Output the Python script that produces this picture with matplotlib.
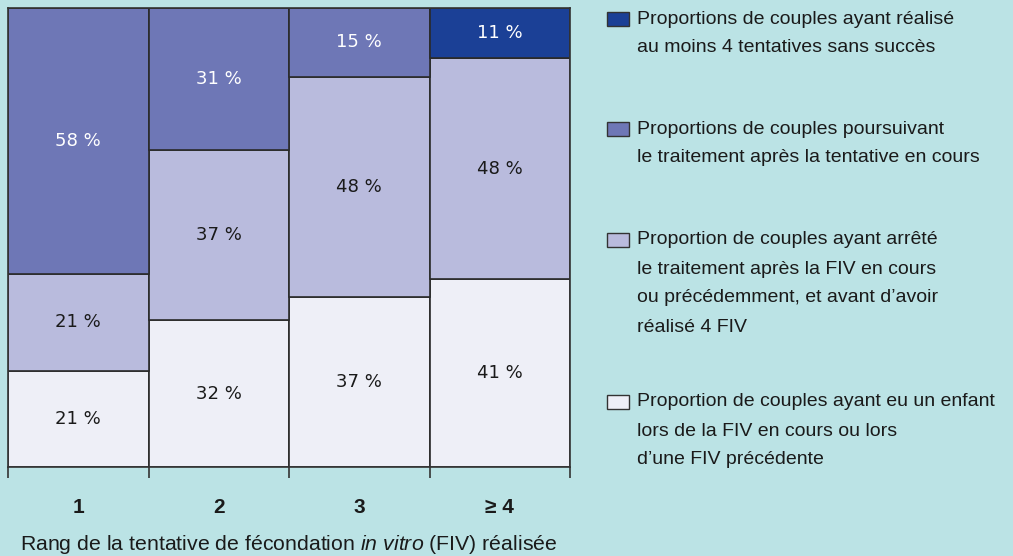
import numpy as np
import matplotlib
matplotlib.use('Agg')
import matplotlib.pyplot as plt
from matplotlib import font_manager
from matplotlib.patches import Rectangle

names = {f.name for f in font_manager.fontManager.ttflist}
narrow = 'Liberation Sans Narrow' if 'Liberation Sans Narrow' in names else 'Liberation Sans'
plt.rcParams['font.family'] = [narrow, 'DejaVu Sans']
plt.rcParams['mathtext.fontset'] = 'custom'
plt.rcParams['mathtext.it'] = narrow + ':italic'
plt.rcParams['mathtext.rm'] = narrow

# data
categories = ['1', '2', '3', '≥ 4']
enfant = [21, 32, 37, 41]
arrete = [21, 37, 48, 48]
poursuivant = [58, 31, 15, 0]
echec4 = [0, 0, 0, 11]

series = [enfant, arrete, poursuivant, echec4]
colors = ['#eeeff7', '#b9bbdd', '#6e77b6', '#1b4096']
text_colors = ['#1a1a1a', '#1a1a1a', 'white', 'white']
legend_labels = [
    "Proportions de couples ayant réalisé\nau moins 4 tentatives sans succès",
    "Proportions de couples poursuivant\nle traitement après la tentative en cours",
    "Proportion de couples ayant arrêté\nle traitement après la FIV en cours\nou précédemment, et avant d’avoir\nréalisé 4 FIV",
    "Proportion de couples ayant eu un enfant\nlors de la FIV en cours ou lors\nd’une FIV précédente",
]
legend_colors = [colors[3], colors[2], colors[1], colors[0]]

bg = '#bbe3e5'
W, H = 1013, 556
fig = plt.figure(figsize=(W / 100, H / 100), dpi=100, facecolor=bg)
ax = fig.add_axes([8 / W, (H - 467) / H, (570 - 8) / W, (467 - 8) / H])
ax.set_facecolor(bg)

x = np.arange(len(categories))
bottom = np.zeros(len(categories))
for vals, c, tc in zip(series, colors, text_colors):
    vals = np.array(vals, dtype=float)
    ax.bar(x, vals, width=1.0, bottom=bottom, color=c, edgecolor='#2a2a2a', linewidth=1.2)
    for xi, v, b in zip(x, vals, bottom):
        if v > 0:
            ax.text(xi, b + v / 2, f'{int(v)} %', ha='center', va='center',
                    fontsize=13, color=tc, family='DejaVu Sans')
    bottom += vals

ax.set_xlim(-0.5, len(categories) - 0.5)
ax.set_ylim(0, 100)
ax.set_yticks([])
ax.set_xticks(x)
ax.set_xticklabels(categories, fontsize=15, fontweight='bold', color='#1a1a1a')
ax.tick_params(axis='x', which='major', length=0, pad=22)
ax.set_xticks(np.arange(-0.5, len(categories)), minor=True)
ax.tick_params(axis='x', which='minor', length=8, width=1.2, color='#333333', direction='out')
for s in ax.spines.values():
    s.set_color('#333333')
    s.set_linewidth(1.2)
ax.set_xlabel(r'Rang de la tentative de fécondation $\mathit{in\ vitro}$ (FIV) réalisée',
              fontsize=15.3, color='#1a1a1a', labelpad=12)

# legend
line_h = 29
item_tops = [19, 129, 240, 402]
for lab, c, yc in zip(legend_labels, legend_colors, item_tops):
    fig.patches.append(Rectangle((607 / W, 1 - (yc + 7) / H), 22 / W, 14 / H,
                                 transform=fig.transFigure, facecolor=c,
                                 edgecolor='#333333', linewidth=1))
    for i, line in enumerate(lab.split('\n')):
        fig.text(637 / W, 1 - (yc + i * line_h) / H, line, ha='left', va='center',
                 fontsize=14, color='#1a1a1a')

fig.savefig('out.png', dpi=100, facecolor=bg)
